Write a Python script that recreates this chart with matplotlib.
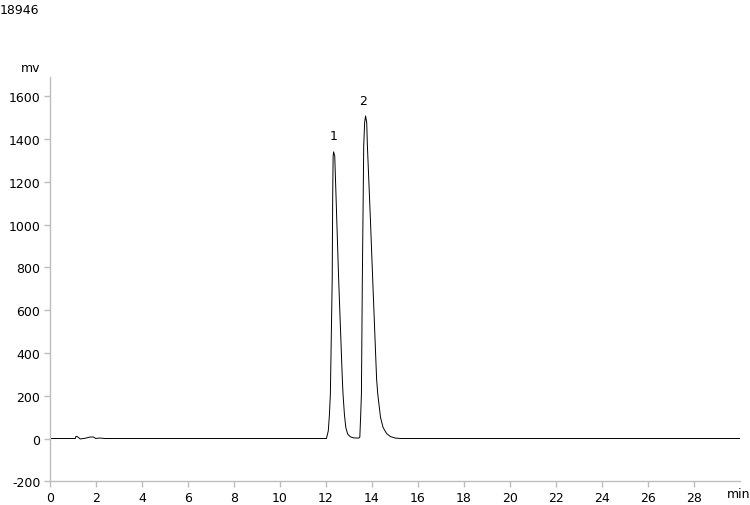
import matplotlib.pyplot as plt

plt.rcParams['axes.unicode_minus'] = False

# chromatogram trace (time in min, signal in mV)
time_min = [0.0, 1.10, 1.13, 1.19, 1.31, 1.52, 1.74, 1.89, 1.99, 2.11, 2.20, 2.40,
            12.02, 12.10, 12.15, 12.19, 12.27, 12.29, 12.31, 12.33, 12.38, 12.44, 12.55,
            12.71, 12.74, 12.80, 12.86, 12.94, 13.06, 13.20, 13.42,
            13.47, 13.51, 13.54, 13.58, 13.64, 13.68, 13.72, 13.77, 13.80, 13.93, 14.03,
            14.20, 14.25, 14.37, 14.48, 14.63, 14.80, 15.02, 15.24,
            30.0]
signal_mv = [0, 0, 10, 9, -2, 1, 7, 7, 0, 2, 2, 0,
             0, 36, 114, 208, 745, 1119, 1321, 1340, 1321, 1119, 745,
             278, 208, 114, 52, 21, 8, 3, 2,
             6, 114, 208, 745, 1368, 1478, 1508, 1478, 1368, 1026, 745,
             278, 208, 99, 52, 24, 9, 2, 0,
             0]

peak_names = ['1', '2']
peak_times = [12.33, 13.62]
peak_label_y = [1415, 1578]

yticks = [-200, 0, 200, 400, 600, 800, 1000, 1200, 1400, 1600]
xticks = list(range(0, 30, 2))

fig = plt.figure(figsize=(7.5, 5.06), dpi=100)
ax = fig.add_axes([50 / 750, 1 - 482.3 / 506, 690 / 750, (482.3 - 78) / 506])

ax.plot(time_min, signal_mv, color='black', lw=0.7)
for name, t, y in zip(peak_names, peak_times, peak_label_y):
    ax.text(t, y, name, ha='center', va='center', fontsize=9)

ax.set_xlim(0, 30)
ax.set_ylim(-200, 1690)
ax.set_xticks(xticks)
ax.set_yticks(yticks)

for side in ['top', 'right']:
    ax.spines[side].set_visible(False)
for side in ['left', 'bottom']:
    ax.spines[side].set_color('#bdbdbd')
    ax.spines[side].set_linewidth(1.0)
ax.tick_params(axis='both', colors='#bdbdbd', labelcolor='black', labelsize=9,
               length=4, width=1.0, direction='out', pad=3)

fig.text(0, 1 - 10 / 506, '18946', ha='left', va='center', fontsize=9)
fig.text(40 / 750, 1 - 68 / 506, 'mv', ha='right', va='center', fontsize=9)
fig.text(750 / 750, 1 - 495 / 506, 'min', ha='right', va='center', fontsize=9)

fig.savefig('out.png', dpi=100)
